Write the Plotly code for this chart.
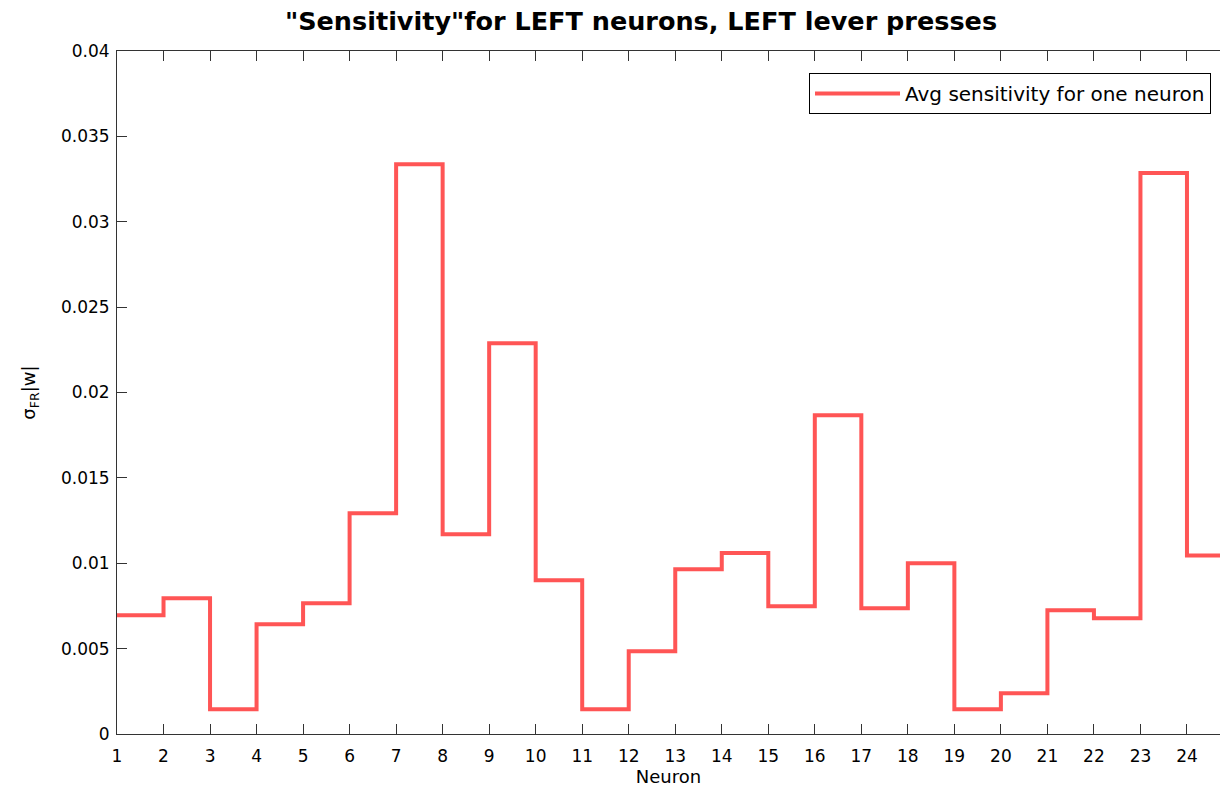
import plotly.graph_objects as go

neurons = list(range(1, 25))
sensitivity = [0.00696, 0.00795, 0.00145, 0.00643, 0.00766, 0.01293, 0.03337, 0.0117,
               0.02289, 0.0090, 0.00145, 0.00485, 0.00965, 0.0106, 0.00748, 0.01867,
               0.00737, 0.0100, 0.00145, 0.00238, 0.00725, 0.00678, 0.03285, 0.01046]
x_ticks = list(range(1, 25))
y_ticks = [0, 0.005, 0.01, 0.015, 0.02, 0.025, 0.03, 0.035, 0.04]
y_tick_text = ["0", "0.005", "0.01", "0.015", "0.02", "0.025", "0.03", "0.035", "0.04"]

# stair: extend last step one unit
xs = neurons + [neurons[-1] + 1]
ys = sensitivity + [sensitivity[-1]]

fig = go.Figure()
fig.add_trace(go.Scatter(x=xs, y=ys, mode="lines", line_shape="hv",
                         line=dict(color="#ff5555", width=4),
                         name="Avg sensitivity for one neuron"))

font_main = "DejaVu Sans, sans-serif"
fig.update_layout(
    width=1220, height=790,
    margin=dict(l=117, r=0, t=51, b=56),
    plot_bgcolor="white", paper_bgcolor="white",
    font=dict(family=font_main, size=17, color="black"),
    title=dict(text='"Sensitivity"for LEFT neurons, LEFT lever presses',
               x=641/1220, xanchor="center", xref="container",
               y=1-21/790, yanchor="middle",
               font=dict(family="DejaVu Sans, sans-serif", size=25.5, color="black", weight="bold")),
    showlegend=True,
    legend=dict(x=(1211-117)/1103, xanchor="right", y=(734-73)/683, yanchor="top",
                bordercolor="black", borderwidth=1, bgcolor="white",
                font=dict(family=font_main, size=20),
                itemwidth=85),
    xaxis=dict(range=[1, 24.71], tickvals=x_ticks, ticktext=[str(v) for v in x_ticks],
               ticks="inside", ticklen=10, tickcolor="#333", showline=True, linecolor="#333",
               linewidth=1, mirror="ticks", showgrid=False, zeroline=False,
               ticklabelstandoff=7,
               title=dict(text="Neuron", font=dict(size=18), standoff=2)),
    yaxis=dict(range=[0, 0.04], tickvals=y_ticks, ticktext=y_tick_text,
               ticks="inside", ticklen=10, tickcolor="#333", showline=True, linecolor="#333",
               linewidth=1, showgrid=False, zeroline=False,
               ticklabelstandoff=3,
               title=dict(text="σ<sub>FR</sub>|w|", font=dict(size=18), standoff=20)),
)

fig.write_html("out.html")
